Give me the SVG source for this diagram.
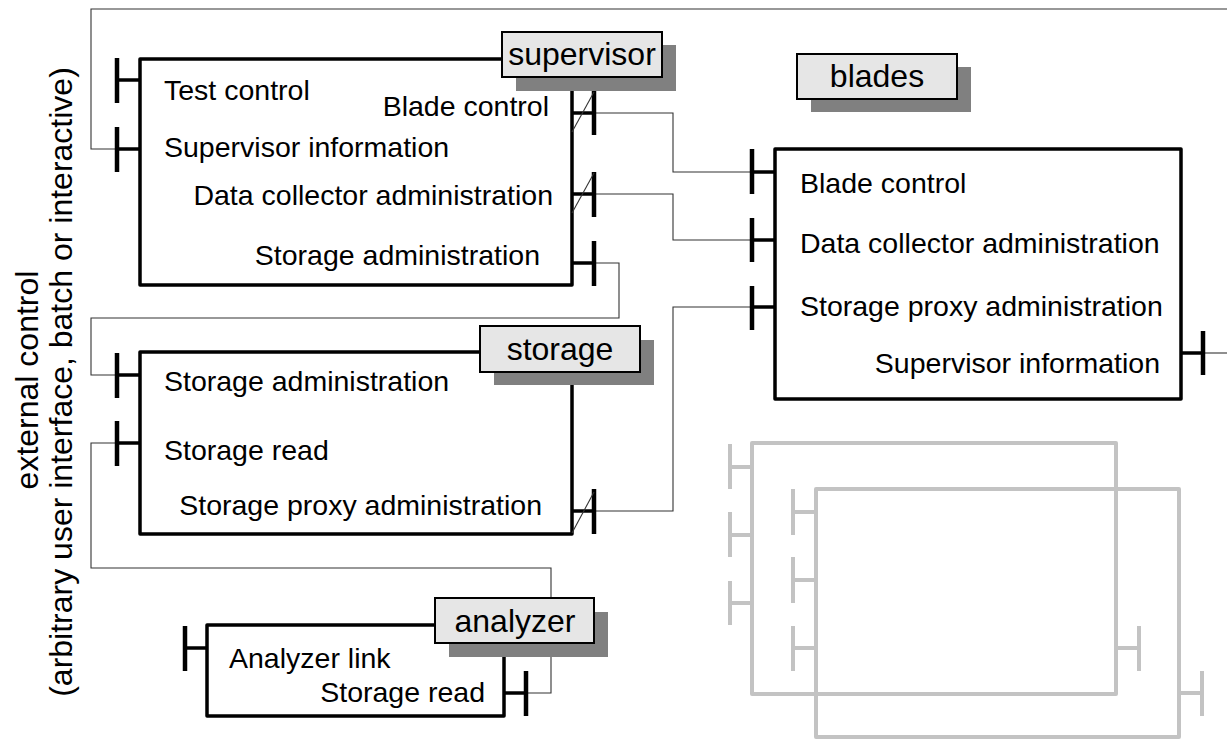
<svg xmlns="http://www.w3.org/2000/svg" width="1227" height="739" viewBox="0 0 1227 739">
<style>
  text { font-family: "Liberation Sans", Arial, sans-serif; fill: #000; }
  .t { font-size: 28.5px; }
  .lbl { font-size: 32px; text-anchor: middle; }
  .side { font-size: 32px; text-anchor: middle; }
  .end { text-anchor: end; }
  .box { fill: none; stroke: #000; stroke-width: 3.5; stroke-linejoin: round; }
  .bar { stroke: #000; stroke-width: 4.5; }
  .stub { stroke: #000; stroke-width: 3.5; }
  .conn { fill: none; stroke: #333; stroke-width: 1.1; }
  .slash { stroke: #333; stroke-width: 1.1; }
  .lbox { fill: #e6e6e6; stroke: #000; stroke-width: 2; }
  .shadow { fill: #808080; }
  .gbox { fill: none; stroke: #c3c3c3; stroke-width: 4; stroke-linejoin: round; }
  .gport { stroke: #c3c3c3; stroke-width: 4; }
</style>

<g id="connectors">
  <polyline class="conn" points="1227,9 91,9 91,149 117,149"/>
  <polyline class="conn" points="1203,353 1227,353"/>
  <polyline class="conn" points="594,113 673,113 673,172 752,172"/>
  <polyline class="conn" points="594,194 673,194 673,240 752,240"/>
  <polyline class="conn" points="594,263 619,263 619,318 91,318 91,375 117,375"/>
  <polyline class="conn" points="594,511 673,511 673,307 752,307"/>
  <polyline class="conn" points="117,443 91,443 91,568 551,568 551,693 526,693"/>
</g>

<g id="external-control">
  <text class="side" transform="translate(38,380) rotate(-90)">external control</text>
  <text class="side" transform="translate(72,382) rotate(-90)">(arbitrary user interface, batch or interactive)</text>
</g>

<g id="supervisor">
  <rect class="box" x="140" y="59" width="432" height="226"/>
  <line class="bar" x1="117" y1="58" x2="117" y2="103"/><line class="stub" x1="117" y1="80" x2="140" y2="80"/>
  <line class="bar" x1="117" y1="127" x2="117" y2="172"/><line class="stub" x1="117" y1="149" x2="140" y2="149"/>
  <line class="bar" x1="594" y1="90" x2="594" y2="135"/><line class="stub" x1="572" y1="113" x2="594" y2="113"/>
  <line class="slash" x1="572" y1="132" x2="594" y2="92"/>
  <line class="bar" x1="594" y1="172" x2="594" y2="217"/><line class="stub" x1="572" y1="194" x2="594" y2="194"/>
  <line class="slash" x1="572" y1="213" x2="594" y2="173"/>
  <line class="bar" x1="594" y1="241" x2="594" y2="286"/><line class="stub" x1="572" y1="263" x2="594" y2="263"/>
  <text class="t" x="164" y="100">Test control</text>
  <text class="t end" x="549" y="116">Blade control</text>
  <text class="t" x="164" y="157">Supervisor information</text>
  <text class="t end" x="553" y="205">Data collector administration</text>
  <text class="t end" x="540" y="265">Storage administration</text>
  <rect class="shadow" x="516" y="45" width="160" height="46"/>
  <rect class="lbox" x="502" y="32" width="160" height="45"/>
  <text class="lbl" x="582" y="65">supervisor</text>
</g>

<g id="blades">
  <rect class="shadow" x="811" y="67" width="160" height="45"/>
  <rect class="lbox" x="797" y="54" width="160" height="45"/>
  <text class="lbl" x="877" y="87">blades</text>
  <rect class="box" x="775" y="149" width="406" height="250"/>
  <line class="bar" x1="752" y1="149" x2="752" y2="194"/><line class="stub" x1="752" y1="172" x2="775" y2="172"/>
  <line class="bar" x1="752" y1="218" x2="752" y2="262"/><line class="stub" x1="752" y1="240" x2="775" y2="240"/>
  <line class="bar" x1="752" y1="286" x2="752" y2="330"/><line class="stub" x1="752" y1="307" x2="775" y2="307"/>
  <line class="bar" x1="1203" y1="331" x2="1203" y2="375"/><line class="stub" x1="1181" y1="353" x2="1203" y2="353"/>
  <text class="t" x="800" y="193">Blade control</text>
  <text class="t" x="800" y="253">Data collector administration</text>
  <text class="t" x="800" y="316">Storage proxy administration</text>
  <text class="t end" x="1160" y="373">Supervisor information</text>
</g>

<g id="storage">
  <rect class="box" x="140" y="352" width="432" height="182"/>
  <line class="bar" x1="117" y1="353" x2="117" y2="398"/><line class="stub" x1="117" y1="375" x2="140" y2="375"/>
  <line class="bar" x1="117" y1="421" x2="117" y2="466"/><line class="stub" x1="117" y1="443" x2="140" y2="443"/>
  <line class="bar" x1="594" y1="489" x2="594" y2="534"/><line class="stub" x1="572" y1="511" x2="594" y2="511"/>
  <line class="slash" x1="572" y1="533" x2="594" y2="492"/>
  <text class="t" x="164" y="391">Storage administration</text>
  <text class="t" x="164" y="460">Storage read</text>
  <text class="t end" x="542" y="515">Storage proxy administration</text>
  <rect class="shadow" x="494" y="340" width="160" height="45"/>
  <rect class="lbox" x="480" y="326" width="160" height="46"/>
  <text class="lbl" x="560" y="360">storage</text>
</g>

<g id="analyzer">
  <rect class="box" x="207" y="625" width="297" height="91"/>
  <line class="bar" x1="185" y1="626" x2="185" y2="671"/><line class="stub" x1="185" y1="648" x2="207" y2="648"/>
  <line class="bar" x1="526" y1="671" x2="526" y2="716"/><line class="stub" x1="504" y1="693" x2="526" y2="693"/>
  <text class="t" x="229" y="668">Analyzer link</text>
  <text class="t end" x="485" y="702">Storage read</text>
  <rect class="shadow" x="449" y="612" width="159" height="45"/>
  <rect class="lbox" x="435" y="598" width="159" height="45"/>
  <text class="lbl" x="515" y="632">analyzer</text>
</g>

<g id="blade-placeholder-1">
  <rect class="gbox" x="752" y="443" width="364" height="251"/>
  <line class="gport" x1="730" y1="444" x2="730" y2="489"/><line class="gport" x1="730" y1="467" x2="752" y2="467"/>
  <line class="gport" x1="730" y1="512" x2="730" y2="557"/><line class="gport" x1="730" y1="535" x2="752" y2="535"/>
  <line class="gport" x1="730" y1="581" x2="730" y2="625"/><line class="gport" x1="730" y1="603" x2="752" y2="603"/>
  <line class="gport" x1="1139" y1="626" x2="1139" y2="671"/><line class="gport" x1="1116" y1="648" x2="1139" y2="648"/>
</g>

<g id="blade-placeholder-2">
  <rect class="gbox" x="816" y="489" width="363" height="248"/>
  <line class="gport" x1="793" y1="489" x2="793" y2="535"/><line class="gport" x1="793" y1="512" x2="816" y2="512"/>
  <line class="gport" x1="793" y1="557" x2="793" y2="603"/><line class="gport" x1="793" y1="580" x2="816" y2="580"/>
  <line class="gport" x1="793" y1="626" x2="793" y2="671"/><line class="gport" x1="793" y1="648" x2="816" y2="648"/>
  <line class="gport" x1="1202" y1="671" x2="1202" y2="716"/><line class="gport" x1="1179" y1="693" x2="1202" y2="693"/>
</g>
</svg>
